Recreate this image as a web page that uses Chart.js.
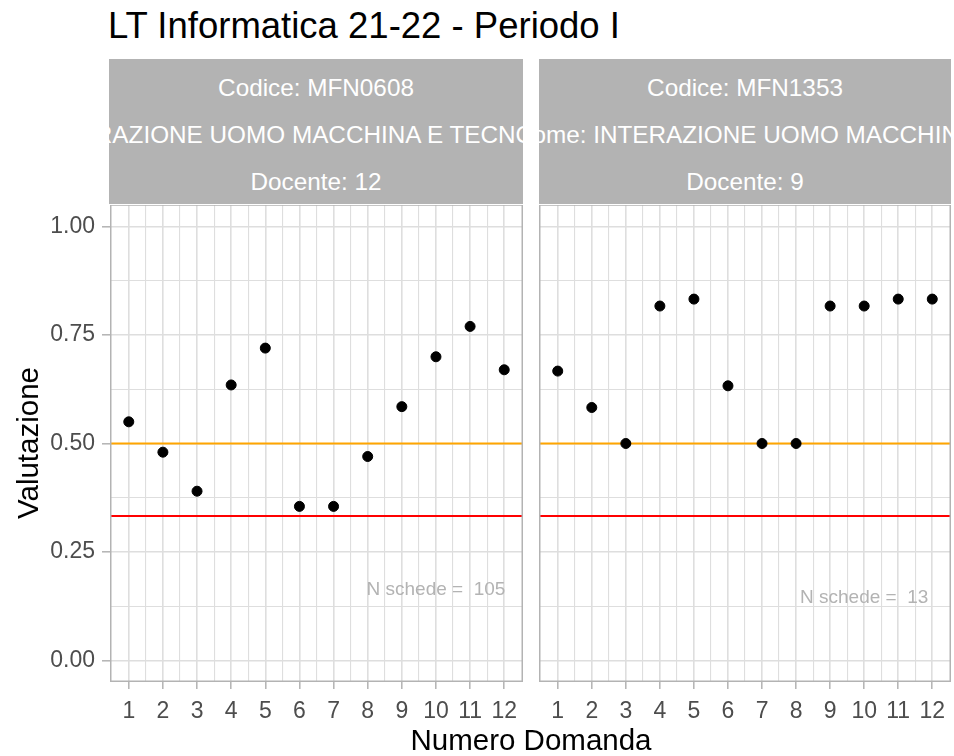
<!DOCTYPE html>
<html>
<head>
<meta charset="utf-8">
<script src="https://cdn.jsdelivr.net/npm/chart.js@4.4.1/dist/chart.umd.min.js"></script>
<style>
  body { margin:0; background:#fff; width:954px; height:756px; position:relative; overflow:hidden;
         font-family:"Liberation Sans", Arial, sans-serif; }
  #title { position:absolute; left:108px; top:5px; font-size:36.5px; line-height:42px; color:#000; white-space:nowrap; }
  .strip { position:absolute; top:59px; height:145px; background:#b3b3b3; overflow:hidden; }
  .sline { position:absolute; left:0; right:0; height:47px; display:flex; justify-content:center; align-items:center;
           white-space:nowrap; color:#ffffff; font-size:24.3px; }
  .sline span { flex-shrink:0; }
  canvas { position:absolute; }
  #ytitle { position:absolute; left:28px; top:443px; transform:translate(-50%,-50%) rotate(-90deg);
            font-size:29.5px; color:#000; white-space:nowrap; }
  #xtitle { position:absolute; left:531px; top:740px; transform:translate(-50%,-50%);
            font-size:29.5px; color:#000; white-space:nowrap; }
</style>
</head>
<body>
<div id="title"></div>
<div id="strip0" class="strip" style="left:109px;width:414px;"></div>
<div id="strip1" class="strip" style="left:539px;width:412px;"></div>
<canvas id="c0" width="524" height="551" style="left:0px;top:205px;"></canvas>
<canvas id="c1" width="413" height="551" style="left:539px;top:205px;"></canvas>
<div id="ytitle"></div>
<div id="xtitle"></div>
<script>
// ---- data ----
const chartTitle = "LT Informatica 21-22 - Periodo I";
const xAxisTitle = "Numero Domanda";
const yAxisTitle = "Valutazione";
const questions = [1,2,3,4,5,6,7,8,9,10,11,12];
const panelCodes = ["MFN0608", "MFN1353"];
const panelNames = ["INTERAZIONE UOMO MACCHINA E TECNOLOGIE WEB", "INTERAZIONE UOMO MACCHINA"];
const panelTeachers = ["12", "9"];
const nSchede = [105, 13];
const scoresMFN0608 = [0.55, 0.48, 0.39, 0.635, 0.72, 0.355, 0.355, 0.47, 0.585, 0.70, 0.77, 0.67];
const scoresMFN1353 = [0.667, 0.583, 0.50, 0.817, 0.833, 0.633, 0.50, 0.50, 0.817, 0.817, 0.833, 0.833];
const thresholdOrange = 0.5;
const thresholdRed = 0.333;
const yTickValues = [0, 0.25, 0.5, 0.75, 1];
const yTickLabels = ["0.00", "0.25", "0.50", "0.75", "1.00"];
const nLabelX = [10, 10];
const nLabelY = [0.163, 0.144];

// ---- text ----
document.getElementById('title').textContent = chartTitle;
document.getElementById('xtitle').textContent = xAxisTitle;
document.getElementById('ytitle').textContent = yAxisTitle;
[0,1].forEach(i => {
  const s = document.getElementById('strip' + i);
  const lines = ["Codice: " + panelCodes[i], "Nome: " + panelNames[i], "Docente: " + panelTeachers[i]];
  lines.forEach((t, k) => {
    const d = document.createElement('div');
    d.className = 'sline';
    d.style.top = (5.5 + 47 * k) + 'px';
    const sp = document.createElement('span');
    sp.textContent = t;
    d.appendChild(sp);
    s.appendChild(d);
  });
});

// ---- charts ----
const XMIN = 0.45, XMAX = 12.55, YMIN = -0.05, YMAX = 1.05;
const GRID = '#dedede', FRAME = '#b3b3b3', TICKTXT = '#4d4d4d';
const FONT = '"Liberation Sans", Arial, sans-serif';

function xTickList() {
  const out = [];
  for (let i = 0; i < questions.length; i++) {
    out.push({ value: questions[i] });
    if (i < questions.length - 1) out.push({ value: (questions[i] + questions[i + 1]) / 2 });
  }
  return out;
}
function yTickList() {
  const out = [];
  for (let i = 0; i < yTickValues.length; i++) {
    out.push({ value: yTickValues[i], major: true });
    if (i < yTickValues.length - 1) out.push({ value: (yTickValues[i] + yTickValues[i + 1]) / 2 });
  }
  return out;
}
function zeroPad(s) { s.paddingTop = 0; s.paddingBottom = 0; s.paddingLeft = 0; s.paddingRight = 0; }

const panelPlugin = {
  id: 'panelDeco',
  afterDraw(chart, args, opts) {
    const { ctx, chartArea: a, scales } = chart;
    ctx.save();
    ctx.font = '19px ' + FONT;
    ctx.fillStyle = '#b3b3b3';
    ctx.textAlign = 'center';
    ctx.textBaseline = 'middle';
    ctx.fillText(opts.label, scales.x.getPixelForValue(opts.lx), scales.y.getPixelForValue(opts.ly));
    ctx.strokeStyle = FRAME;
    ctx.lineWidth = 1.5;
    ctx.strokeRect(a.left + 0.75, a.top, a.right - a.left - 1.5, a.bottom - a.top - 0.75);
    ctx.restore();
  }
};

function makeChart(id, values, idx, showY) {
  return new Chart(document.getElementById(id), {
    type: 'scatter',
    data: {
      datasets: [
        { data: questions.map((q, i) => ({ x: q, y: values[i] })), backgroundColor: '#000', borderColor: '#000',
          pointRadius: 5, pointHoverRadius: 5, showLine: false },
        { data: [{ x: XMIN, y: thresholdOrange }, { x: XMAX, y: thresholdOrange }], showLine: true,
          borderColor: '#FFA500', borderWidth: 2, pointRadius: 0 },
        { data: [{ x: XMIN, y: thresholdRed }, { x: XMAX, y: thresholdRed }], showLine: true,
          borderColor: '#FF0000', borderWidth: 2, pointRadius: 0 }
      ]
    },
    options: {
      responsive: false, animation: false, devicePixelRatio: 1,
      layout: { autoPadding: false, padding: { left: 0, right: 1, top: 0, bottom: 0 } },
      plugins: { legend: { display: false }, tooltip: { enabled: false },
                 panelDeco: { label: 'N schede =  ' + nSchede[idx], lx: nLabelX[idx], ly: nLabelY[idx] } },
      scales: {
        x: {
          type: 'linear', min: XMIN, max: XMAX,
          afterBuildTicks: s => { s.ticks = xTickList(); },
          afterFit: s => { s.height = 74; zeroPad(s); },
          border: { display: false },
          grid: {
            color: GRID,
            lineWidth: c => (Number.isInteger(c.tick && c.tick.value) ? 1.6 : 1.1),
            tickColor: c => (Number.isInteger(c.tick && c.tick.value) ? FRAME : 'rgba(0,0,0,0)'),
            tickLength: 7, tickWidth: 1.5
          },
          ticks: {
            autoSkip: false, maxRotation: 0, minRotation: 0, padding: 9, color: TICKTXT,
            font: { size: 23, family: FONT },
            callback: v => (Number.isInteger(v) ? String(v) : '')
          }
        },
        y: {
          type: 'linear', min: YMIN, max: YMAX,
          afterBuildTicks: s => { s.ticks = yTickList(); },
          afterFit: s => { s.width = showY ? 110 : 0; zeroPad(s); },
          border: { display: false },
          grid: {
            color: GRID,
            lineWidth: c => (c.index % 2 === 0 ? 1.6 : 1.1),
            drawTicks: showY,
            tickColor: c => (c.index % 2 === 0 ? FRAME : 'rgba(0,0,0,0)'),
            tickLength: 8, tickWidth: 1.5
          },
          ticks: {
            display: showY, padding: 7, color: TICKTXT,
            font: { size: 23, family: FONT },
            callback: (v, i) => (i % 2 === 0 ? yTickLabels[i / 2] : '')
          }
        }
      }
    },
    plugins: [panelPlugin]
  });
}

makeChart('c0', scoresMFN0608, 0, true);
makeChart('c1', scoresMFN1353, 1, false);
</script>
</body>
</html>
